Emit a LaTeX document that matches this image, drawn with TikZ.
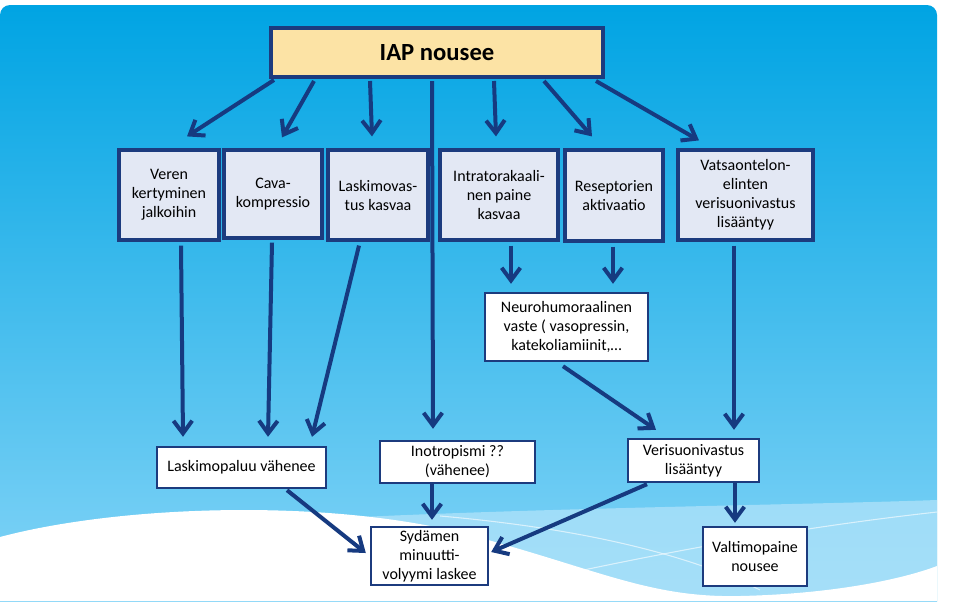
\documentclass[tikz,border=0pt]{standalone}
\usepackage{fontspec}
\setmainfont{Carlito}
\usetikzlibrary{arrows.meta,calc}
\definecolor{navy}{HTML}{1C3B7E}
\definecolor{arrowc}{HTML}{163A80}
\definecolor{rowfill}{HTML}{E3E8F4}
\definecolor{iapfill}{HTML}{FCE3A5}
\definecolor{bgtop}{HTML}{00A4E3}
\definecolor{bgbot}{HTML}{8CD7F8}
\definecolor{bandc}{HTML}{B4E4FA}
\newcommand\placebox[7]{\node[#6, minimum width={(#4-#2)*0.75pt}, minimum height={(#5-#3)*0.75pt}] (#1) at ({(#2+#4)/2},{(#3+#5)/2}) {#7};}
\begin{document}
\begin{tikzpicture}[x=0.75pt,y=-0.75pt,
 txt/.style={font=\fontsize{12}{14.25}\selectfont, align=center, inner sep=0pt, text=black},
 rowbox/.style={txt, draw=navy, line width=2.4pt, fill=rowfill},
 wbox/.style={txt, draw=navy, line width=1.8pt, fill=white},
 iapbox/.style={draw=navy, line width=3pt, fill=iapfill, font=\fontsize{18.5}{22}\selectfont\bfseries, inner sep=0pt},
 arr/.style={draw=arrowc, line width=3pt, -{Straight Barb[length=9.5pt,width=14pt]}}]
\useasboundingbox (0,0) rectangle (960,601);
% background
\fill[white] (0,0) rectangle (960,601);
\shade[top color=bgtop, bottom color=bgbot, rounded corners=7.5pt] (0,5) rectangle (937,640);
\fill[bandc, opacity=0.7] (300,520) .. controls (520,508) and (800,505) .. (937,500) -- (937,601) -- (300,601) -- cycle;
\fill[white] (0,537) .. controls (120,505) and (330,498) .. (470,535) .. controls (600,570) and (650,598) .. (740,596) .. controls (830,594) and (900,580) .. (937,566) -- (937,601) -- (0,601) -- cycle;
\draw[white, opacity=0.6, line width=0.8pt] (440,516) .. controls (600,530) and (700,560) .. (760,590);
\draw[white, opacity=0.6, line width=0.8pt] (560,575) .. controls (700,545) and (820,525) .. (937,512);
% nodes
\placebox{iap}{271}{28}{603}{77}{iapbox}{IAP nousee}
\placebox{veren}{119}{150}{219}{240}{rowbox}{Veren\\kertyminen\\jalkoihin}
\placebox{cava}{224}{150}{322}{238}{rowbox}{Cava-\\kompressio}
\placebox{lask}{328}{150}{428}{240}{rowbox}{Laskimovas-\\tus kasvaa}
\placebox{intra}{440}{150}{558}{240}{rowbox}{Intratorakaali-\\nen paine\\kasvaa}
\placebox{resep}{565}{150}{663}{241}{rowbox}{Reseptorien\\aktivaatio}
\placebox{vatsa}{678}{150}{813}{240}{rowbox}{Vatsaontelon-\\elinten\\verisuonivastus\\lisääntyy}
\placebox{neuro}{485}{293}{648}{361}{wbox}{Neurohumoraalinen\\vaste ( vasopressin,\\katekoliamiinit,…}
\placebox{lpal}{157}{447}{326}{488}{wbox}{Laskimopaluu vähenee}
\placebox{ino}{380}{441}{535}{483}{wbox}{Inotropismi ??\\(vähenee)}
\placebox{syd}{371}{527}{488}{585}{wbox}{Sydämen\\minuutti-\\volyymi laskee}
\placebox{veri}{628}{439}{759}{482}{wbox}{Verisuonivastus\\lisääntyy}
\placebox{valt}{703}{527}{807}{586}{wbox}{Valtimopaine\\nousee}
% connectors from IAP
\draw[arr] ($(iap.south west)+(5,1)$) -- ($(veren.north)+(18,-12)$);
\draw[arr] ($(iap.south west)+(45,2)$) -- ($(cava.north)+(9,-11)$);
\draw[arr] ($(iap.south west)+(101,2)$) -- ($(lask.north)+(-6,-12)$);
\draw[arr] ($(iap.south west)+(163,2)$) -- ($(ino.north)+(-24.5,-11)$);
\draw[arr] ($(iap.south west)+(225,2)$) -- ($(intra.north)+(-3,-12)$);
\draw[arr] ($(iap.south west)+(275,2)$) -- ($(resep.north)+(-22,-12)$);
\draw[arr] ($(iap.south west)+(327,2)$) -- ($(vatsa.north)+(-46.5,-8)$);
% row 1 downwards
\draw[arr] ($(veren.south)+(12,4)$) -- ($(lpal.north)+(-58.5,-9)$);
\draw[arr] ($(cava.south)+(-1,3)$) -- ($(lpal.north)+(26.5,-9)$);
\draw[arr] ($(lask.south)+(-19,4)$) -- ($(lpal.north)+(70.5,-9)$);
\draw[arr] ($(intra.south)+(12,4)$) -- ($(neuro.north)+(-55.5,-8)$);
\draw[arr] ($(resep.south)+(-1,4)$) -- ($(neuro.north)+(46.5,-8)$);
\draw[arr] ($(vatsa.south)+(-11.5,4)$) -- ($(veri.north)+(40.5,-8)$);
\draw[arr] ($(neuro.south)+(-3.5,4)$) -- ($(veri.north)+(-37.5,-8)$);
% bottom
\draw[arr] ($(lpal.south)+(45.5,1)$) -- ($(syd.west)+(-4,-3)$);
\draw[arr] ($(ino.south)+(-25.5,0)$) -- ($(syd.north)+(2.5,-6)$);
\draw[arr] ($(veri.south)+(-46.5,1)$) -- ($(syd.east)+(2,-4)$);
\draw[arr] ($(veri.south)+(41.5,0)$) -- ($(valt.north)+(-20,-3)$);
\end{tikzpicture}
\end{document}
